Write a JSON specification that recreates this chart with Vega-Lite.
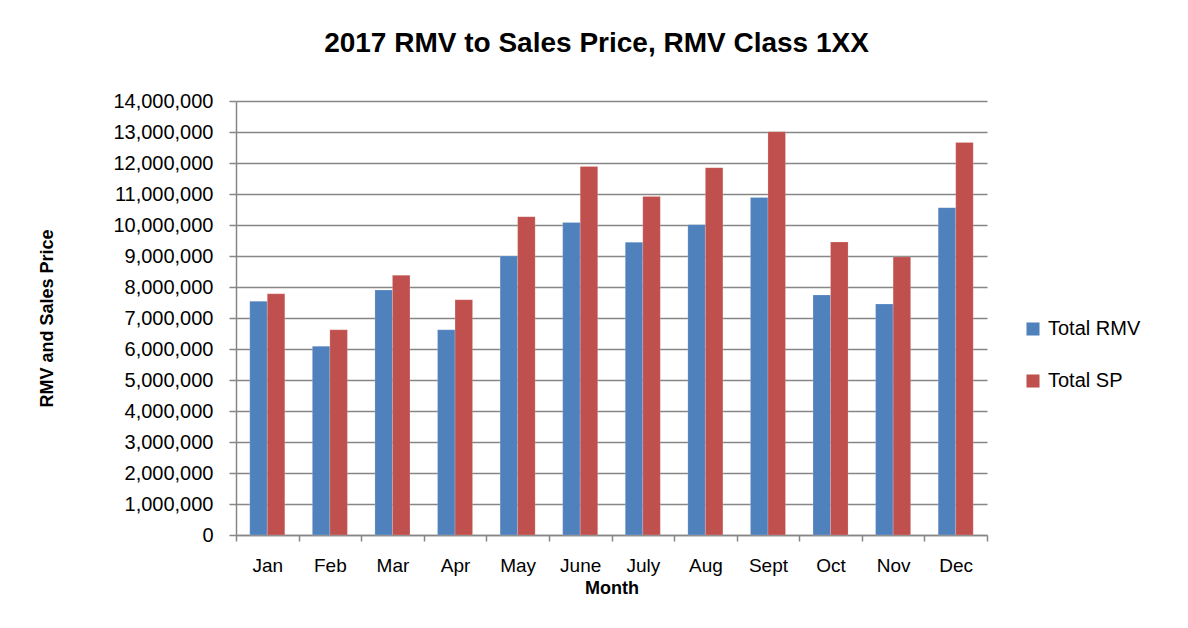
{
  "$schema": "https://vega.github.io/schema/vega-lite/v6.json",
  "width": 751,
  "height": 434,
  "autosize": {"type": "none"},
  "padding": {"left": 236, "top": 101, "right": 201, "bottom": 93},
  "background": "white",
  "title": {
    "text": "2017 RMV to Sales Price, RMV Class 1XX",
    "font": "Liberation Sans",
    "fontSize": 28,
    "fontWeight": "bold",
    "color": "#000000",
    "anchor": "middle",
    "dx": -15,
    "offset": 33
  },
  "data": {
    "values": [
      {"month": "Jan", "series": "Total RMV", "value": 7540000},
      {"month": "Jan", "series": "Total SP", "value": 7780000},
      {"month": "Feb", "series": "Total RMV", "value": 6090000},
      {"month": "Feb", "series": "Total SP", "value": 6620000},
      {"month": "Mar", "series": "Total RMV", "value": 7900000},
      {"month": "Mar", "series": "Total SP", "value": 8380000},
      {"month": "Apr", "series": "Total RMV", "value": 6620000},
      {"month": "Apr", "series": "Total SP", "value": 7590000},
      {"month": "May", "series": "Total RMV", "value": 9000000},
      {"month": "May", "series": "Total SP", "value": 10270000},
      {"month": "June", "series": "Total RMV", "value": 10080000},
      {"month": "June", "series": "Total SP", "value": 11890000},
      {"month": "July", "series": "Total RMV", "value": 9440000},
      {"month": "July", "series": "Total SP", "value": 10920000},
      {"month": "Aug", "series": "Total RMV", "value": 10010000},
      {"month": "Aug", "series": "Total SP", "value": 11850000},
      {"month": "Sept", "series": "Total RMV", "value": 10890000},
      {"month": "Sept", "series": "Total SP", "value": 13010000},
      {"month": "Oct", "series": "Total RMV", "value": 7740000},
      {"month": "Oct", "series": "Total SP", "value": 9450000},
      {"month": "Nov", "series": "Total RMV", "value": 7450000},
      {"month": "Nov", "series": "Total SP", "value": 8970000},
      {"month": "Dec", "series": "Total RMV", "value": 10560000},
      {"month": "Dec", "series": "Total SP", "value": 12660000}
    ]
  },
  "mark": {"type": "bar", "stroke": "white", "strokeOpacity": 0.35, "strokeWidth": 0.5},
  "encoding": {
    "x": {
      "field": "month",
      "type": "nominal",
      "sort": ["Jan", "Feb", "Mar", "Apr", "May", "June", "July", "Aug", "Sept", "Oct", "Nov", "Dec"],
      "scale": {"paddingInner": 0, "paddingOuter": 0},
      "title": "Month",
      "axis": {
        "labelAngle": 0,
        "tickBand": "extent",
        "tickSize": 6,
        "tickColor": "#868686",
        "tickWidth": 1.5,
        "domainColor": "#868686",
        "domainWidth": 1.5,
        "labelFont": "Liberation Sans",
        "labelFontSize": 19,
        "labelColor": "#000000",
        "labelPadding": 15,
        "titleFont": "Liberation Sans",
        "titleFontSize": 18,
        "titleFontWeight": "bold",
        "titleColor": "#000000",
        "titlePadding": 4
      }
    },
    "xOffset": {
      "field": "series",
      "type": "nominal",
      "scale": {"paddingInner": 0, "paddingOuter": 0.786}
    },
    "y": {
      "field": "value",
      "type": "quantitative",
      "scale": {"domain": [0, 14000000], "nice": false},
      "title": "RMV and Sales Price",
      "axis": {
        "values": [0, 1000000, 2000000, 3000000, 4000000, 5000000, 6000000, 7000000, 8000000, 9000000, 10000000, 11000000, 12000000, 13000000, 14000000],
        "format": ",d",
        "grid": true,
        "gridColor": "#868686",
        "gridWidth": 1.5,
        "tickSize": 7,
        "tickColor": "#868686",
        "tickWidth": 1.5,
        "domainColor": "#868686",
        "domainWidth": 1.5,
        "labelFont": "Liberation Sans",
        "labelFontSize": 20,
        "labelColor": "#000000",
        "labelPadding": 16,
        "titleFont": "Liberation Sans",
        "titleFontSize": 18,
        "titleFontWeight": "bold",
        "titleColor": "#000000",
        "titlePadding": 56
      }
    },
    "color": {
      "field": "series",
      "type": "nominal",
      "scale": {"domain": ["Total RMV", "Total SP"], "range": ["#4F81BD", "#C0504D"]},
      "legend": {
        "title": null,
        "orient": "none",
        "legendX": 787,
        "legendY": 218,
        "symbolType": "square",
        "symbolSize": 170,
        "symbolStrokeWidth": 0,
        "labelFont": "Liberation Sans",
        "labelFontSize": 20,
        "labelColor": "#000000",
        "labelOffset": 5,
        "rowPadding": 32
      }
    }
  },
  "config": {
    "view": {"stroke": null}
  }
}
